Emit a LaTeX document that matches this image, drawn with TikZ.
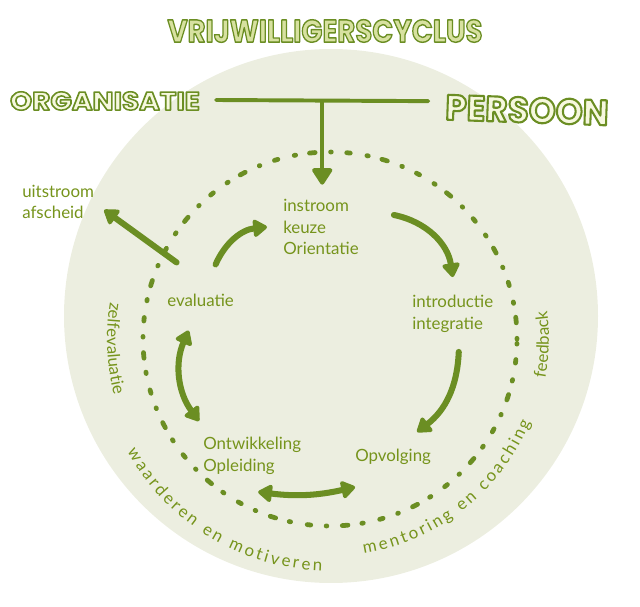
\documentclass[tikz,border=0pt]{standalone}
\usepackage{fontspec}
\usepackage{graphicx}
\usepackage{tikz}
\usetikzlibrary{arrows.meta, positioning, calc, decorations.text}
\setmainfont{Lato}
\newfontfamily\blockfont{Poppins}
\definecolor{leafgreen}{RGB}{107,142,35}
\definecolor{inkgreen}{RGB}{118,148,28}
\definecolor{paper}{RGB}{236,238,224}
\definecolor{palefill}{RGB}{246,248,222}
\definecolor{stripefill}{RGB}{215,225,160}
\newcommand{\cyclefont}{\fontsize{12}{15.5}\selectfont}
% outlined letters: fill colour #1, stroke width #2
\newcommand{\outlined}[3]{{\color{#1}\special{pdf:literal direct 0.42 0.557 0.137 RG 2 Tr #2 w 1 j}#3\special{pdf:literal direct 0 Tr}}}
\tikzset{
  phase/.style={font=\cyclefont, text=inkgreen, align=left,
    inner sep=0pt, anchor=west},
  flow/.style={-{Triangle[length=11pt,width=14pt,round]}, line width=4.3pt,
    draw=leafgreen, line cap=round},
  twoway/.style={flow, {Triangle[length=11pt,width=14pt,round]}-{Triangle[length=11pt,width=14pt,round]}},
  tbar/.style={draw=leafgreen, line width=2.8pt, line cap=round},
  feedin/.style={-{Triangle[length=13pt,width=16pt,round]}, draw=leafgreen, line width=2.8pt},
  ringdots/.style={draw=leafgreen, line width=3.4pt, line cap=round,
    dash pattern=on 0.5pt off 11pt on 4pt off 10pt on 1pt off 12pt on 2.5pt off 11pt},
  ringlabel/.style={decorate, decoration={text along path, text color=inkgreen,
    text align=center, text={|\cyclefont|#1}}},
  ringlabelfit/.style={decorate, decoration={text along path, text color=inkgreen,
    text align=fit to path, text={|\cyclefont|#1}}},
  bigword/.style={inner sep=0pt, font=\blockfont\bfseries}
}

\begin{document}
\begin{tikzpicture}[x=0.025cm, y=0.025cm]
  \useasboundingbox (0,0) rectangle (640,607);
  \coordinate (disc) at (331,291);
  \coordinate (ringc) at (330,268);
  \fill[paper] (disc) circle (267);
  \draw[ringdots] (ringc) circle (187);

  \node[bigword] (title) at (325,576)
    {\resizebox{224pt}{16pt}{\outlined{stripefill}{0.45}{VRIJWILLIGERSCYCLUS}}};
  \node[bigword] (organisatie) at (105,506)
    {\resizebox{135pt}{13pt}{\outlined{palefill}{0.6}{ORGANISATIE}}};
  \node[bigword, rotate=-2] (persoon) at (527,497)
    {\resizebox{116pt}{18pt}{\outlined{palefill}{0.6}{PERSOON}}};

  \node[phase] (uitstroom) at (22,405) {uitstroom\\afscheid};
  \node[phase] (instroom) at (283,380) {instroom\\keuze\\Orientatie};
  \node[phase] (evaluatie) at (167,307) {evaluatie};
  \node[phase] (introductie) at (412,293) {introductie\\integratie};
  \node[phase] (ontwikkeling) at (203,151) {Ontwikkeling\\Opleiding};
  \node[phase] (opvolging) at (355,150) {Opvolging};

  \draw[tbar] ([shift={(16,1)}]organisatie.east) coordinate (tstart)
    -- ([shift={(-17,6)}]persoon.west) coordinate (tend);
  \coordinate (tjoin) at ($(tstart)!0.5!(tend)$);
  \draw[feedin] (tjoin) -- ([shift={(0,14)}]tjoin |- instroom.north);

  \draw[flow] ([shift={(15,29)}]evaluatie.north) to[bend left=30] ([shift={(-16,0)}]instroom.west);
  \draw[flow] ([shift={(35,12)}]instroom.east) to[bend left=35] ([shift={(0,18)}]introductie.north);
  \draw[flow] ([shift={(6,-19)}]introductie.south) to[bend left=25] ([shift={(24,17)}]opvolging.north);
  \draw[twoway] ([shift={(6,-17)}]ontwikkeling.south) to[bend right=10] ([shift={(-38,-22)}]opvolging.south);
  \draw[twoway] ([shift={(-12,-24)}]evaluatie.south) to[bend right=30] ([shift={(-4,16)}]ontwikkeling.north west);
  \draw[flow] ([shift={(-24,31)}]evaluatie.north) -- ([shift={(10,-8)}]uitstroom.east);

  \path[ringlabel=zelfevaluatie] (ringc) ++(150:223) arc[start angle=150, end angle=215, radius=223];
  \path[ringlabel=feedback] (ringc) ++(-35:219) arc[start angle=-35, end angle=32, radius=219];
  \path[ringlabelfit={waarderen en motiveren}] (ringc) ++(209:232) arc[start angle=209, end angle=268, radius=232];
  \path[ringlabelfit={mentoring en coaching}] (ringc) ++(279:217) arc[start angle=279, end angle=337.5, radius=217];
\end{tikzpicture}
\end{document}
